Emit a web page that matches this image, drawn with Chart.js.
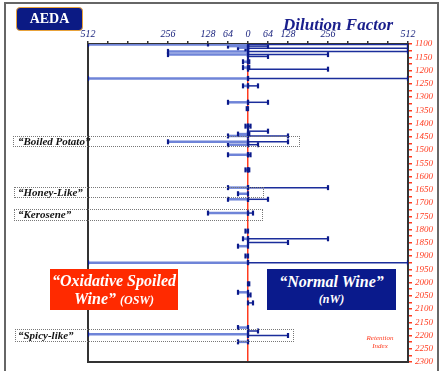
<!DOCTYPE html>
<html>
<head>
<meta charset="utf-8">
<script src="https://cdn.jsdelivr.net/npm/chart.js@4"></script>
<style>
  body { margin: 0; background: #fff; }
  #wrap { position: relative; width: 441px; height: 371px; overflow: hidden; background: #fff; }
  #chart { position: absolute; left: 0; top: 0; }
  .frame { position: absolute; left: 4px; top: 2px; width: 431px; height: 380px; border: 2px solid #666; }
  .serif { font-family: "Liberation Serif", "DejaVu Serif", serif; font-weight: bold; font-style: italic; }
  .box { position: absolute; border: 1px dotted #777; box-sizing: border-box; }
  .lbl { position: absolute; font-size: 11px; color: #111; line-height: 11px; }
  #aeda { position: absolute; left: 16px; top: 7px; width: 67px; height: 24px; background: #0b1a84; border: 1.5px solid #e8a23a; border-radius: 4px; box-sizing: border-box; color: #fff; font-family: "Liberation Serif", serif; font-weight: bold; font-size: 14px; text-align: center; line-height: 22px; }
  #title { position: absolute; left: 283px; top: 15px; font-size: 17px; color: #1a1f8c; }
  #osw { position: absolute; left: 50px; top: 269px; width: 128px; height: 41px; background: #ff2a00; color: #fff; text-align: center; }
  #nw { position: absolute; left: 267px; top: 269px; width: 129px; height: 41px; background: #0a1a8c; color: #fff; text-align: center; }
  .big { font-size: 16px; line-height: 18px; }
  .small { font-size: 12px; }
  #ri { position: absolute; left: 360px; top: 334px; width: 40px; text-align: center; font-family: "Liberation Serif", serif; font-style: italic; font-size: 7px; line-height: 8px; color: #ff3b1f; }
</style>
</head>
<body>
<div id="wrap">
  <canvas id="chart" width="441" height="371"></canvas>
  <div class="frame"></div>
  <div id="aeda">AEDA</div>
  <div id="title" class="serif">Dilution Factor</div>

  <div class="box" style="left:13px;top:136px;width:287px;height:11px;"></div>
  <div class="lbl serif" style="left:18px;top:136px;">“Boiled Potato”</div>
  <div class="box" style="left:14px;top:187px;width:250px;height:11px;"></div>
  <div class="lbl serif" style="left:18px;top:187px;">“Honey-Like”</div>
  <div class="box" style="left:14px;top:209px;width:249px;height:12px;"></div>
  <div class="lbl serif" style="left:18px;top:209px;">“Kerosene”</div>
  <div class="box" style="left:15px;top:329px;width:279px;height:13px;"></div>
  <div class="lbl serif" style="left:18px;top:330px;">“Spicy-like”</div>

  <div id="osw" class="serif"><div class="big" style="margin-top:3px;">“Oxidative Spoiled</div><div class="big">Wine” <span class="small">(OSW)</span></div></div>
  <div id="nw" class="serif"><div class="big" style="margin-top:4px;">“Normal Wine”</div><div class="small" style="margin-top:1px;">(nW)</div></div>
  <div id="ri">Retention<br>Index</div>
</div>

<script>
// left side: Oxidative Spoiled Wine (retention index, dilution factor)
const oswRI = [1100, 1102, 1108, 1114, 1118, 1128, 1140, 1167, 1189, 1230, 1258, 1320, 1344, 1410, 1440, 1447, 1469, 1480, 1518, 1575, 1642, 1665, 1686, 1738, 1806, 1835, 1863, 1900, 1925, 2037, 2170, 2195, 2224];
const oswDF = [128, 512, 64, 32, 8, 256, 256, 16, 16, 512, 16, 64, 4, 8, 32, 64, 256, 64, 64, 8, 64, 32, 64, 128, 8, 16, 32, 8, 512, 32, 32, 512, 32];

// right side: Normal Wine
const nwRI = [1102, 1108, 1116, 1128, 1140, 1147, 1167, 1189, 1195, 1230, 1258, 1320, 1410, 1429, 1440, 1447, 1469, 1480, 1518, 1575, 1642, 1686, 1738, 1835, 1849, 1925, 2005, 2047, 2077, 2183, 2200];
const nwDF = [512, 64, 512, 512, 256, 64, 4, 4, 256, 512, 32, 64, 8, 64, 4, 128, 128, 32, 8, 4, 256, 64, 16, 256, 128, 512, 4, 8, 16, 32, 128];

const dfLabels = [0, 64, 128, 256, 512];
const riMin = 1100, riMax = 2300;

const capColor = "#0b1a8a";

function makeBar(ri, df, sign, color, width) {
    return {
        data: [{ x: 0, y: ri }, { x: sign * df, y: ri }],
        showLine: true,
        borderColor: color,
        borderWidth: width,
        pointStyle: "line",
        rotation: 90,
        pointRadius: 2.5,
        pointBorderWidth: 2.2,
        pointBorderColor: capColor,
        pointBackgroundColor: capColor
    };
}

const datasets = [
    ...oswRI.map((ri, i) => makeBar(ri, oswDF[i], -1, "#6f84d8", 2.5)),
    ...nwRI.map((ri, i) => makeBar(ri, nwDF[i], 1, "#1b2d9b", 1.5))
];

// frame around the plot
const framePlugin = {
    id: "frame",
    beforeDatasetsDraw(chart) {
        const { ctx, chartArea: a } = chart;
        ctx.save();
        ctx.strokeStyle = "#333";
        ctx.lineWidth = 2;
        ctx.strokeRect(a.left, a.top, a.right - a.left, a.bottom - a.top);
        ctx.restore();
    }
};

new Chart(document.getElementById("chart"), {
    type: "scatter",
    data: { datasets },
    plugins: [framePlugin],
    options: {
        responsive: false,
        animation: false,
        layout: { padding: { left: 88, bottom: 9, top: 0, right: 0 } },
        plugins: { legend: { display: false }, tooltip: { enabled: false } },
        scales: {
            x: {
                type: "linear",
                position: "top",
                min: -512,
                max: 512,
                afterFit: s => { s.height = 44; },
                ticks: {
                    stepSize: 64,
                    autoSkip: false,
                    maxRotation: 0,
                    padding: 1,
                    color: "#1a237e",
                    font: { family: "Liberation Serif", style: "italic", size: 10 },
                    callback: v => dfLabels.includes(Math.abs(v)) ? Math.abs(v) : ""
                },
                grid: {
                    color: c => c.tick && c.tick.value === 0 ? "#ff3b1f" : "rgba(0,0,0,0)",
                    lineWidth: 1.5,
                    tickColor: "#333",
                    tickLength: 3
                },
                border: { color: "#111", width: 2 }
            },
            y: {
                type: "linear",
                position: "right",
                reverse: true,
                min: riMin,
                max: riMax,
                afterFit: s => { s.width = 33; },
                ticks: {
                    stepSize: 25,
                    autoSkip: false,
                    padding: 3,
                    color: "#ff3b1f",
                    font: { family: "Liberation Serif", style: "italic", size: 9 },
                    callback: v => v % 50 === 0 ? v : ""
                },
                grid: {
                    drawOnChartArea: false,
                    color: "#ff3b1f",
                    tickLength: 4,
                    lineWidth: 1.5
                },
                border: { color: "#333", width: 2 }
            }
        }
    }
});
</script>
</body>
</html>
